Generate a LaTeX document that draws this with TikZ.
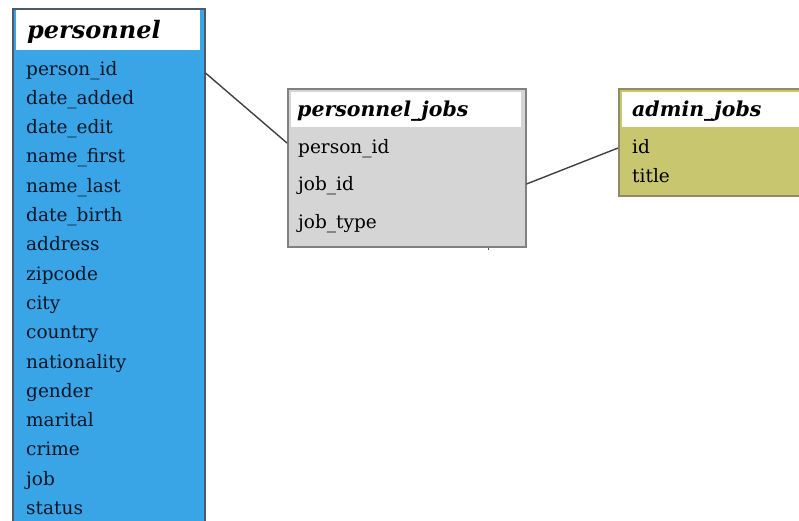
\documentclass[tikz,border=0pt]{standalone}
\usepackage{fontspec}
\setmainfont{DejaVu Serif}
\usetikzlibrary{positioning}
\definecolor{persblue}{HTML}{39A4E6}
\definecolor{persedge}{HTML}{4E5A68}
\definecolor{jobgray}{HTML}{D5D5D5}
\definecolor{jobedge}{HTML}{808080}
\definecolor{adminolive}{HTML}{C9C670}
\definecolor{adminedge}{HTML}{8E8C66}
\definecolor{fieldink}{HTML}{0E1626}
\tikzset{
  tablebox/.style={draw, line width=1.5pt, inner sep=0pt, anchor=north west},
  headband/.style={fill=white, draw=none, inner sep=0pt, anchor=north west},
  tabletitle/.style={anchor=base west, inner sep=0pt, font=\fontsize{#1}{#1}\selectfont\bfseries\itshape},
  field/.style={anchor=base west, inner sep=0pt, text=fieldink, font=\fontsize{18.5}{20}\selectfont},
  link/.style={draw=black!75, line width=1.4pt}
}
\begin{document}
\begin{tikzpicture}[x=1pt, y=-1pt]
\useasboundingbox (0,0) rectangle (799,520);
\clip (0,0) rectangle (799,520);

% table: personnel
\node[tablebox, draw=persedge, fill=persblue, minimum width=192pt, minimum height=540pt] (personnel) at (12,8) {};
\node[headband, minimum width=184pt, minimum height=40pt] (personnelhead) at (16,10) {};
\node[tabletitle=24] (personneltitle) at (27,38) {personnel};
\foreach \f [count=\i from 0] in {person\_id, date\_added, date\_edit, name\_first, name\_last, date\_birth, address, zipcode, city, country, nationality, gender, marital, crime, job, status}{
  \node[field] (pf\i) at (26,{75+29.3*\i}) {\f};
}

% table: personnel_jobs
\node[tablebox, draw=jobedge, fill=jobgray, minimum width=238pt, minimum height=158pt] (pjobs) at (287,88) {};
\node[headband, minimum width=230pt, minimum height=35pt] (pjobshead) at (291,92) {};
\node[tabletitle=20.5] (pjobstitle) at (297,116) {personnel\_jobs};
\node[field, text=black] (pjpid) at (298,153) {person\_id};
\node[field, text=black] (pjjid) at (298,190.5) {job\_id};
\node[field, text=black] (pjjtype) at (298,228) {job\_type};

% table: admin_jobs
\node[tablebox, draw=adminedge, fill=adminolive, minimum width=200pt, minimum height=107pt] (ajobs) at (618,88) {};
\node[headband, minimum width=192pt, minimum height=35pt] (ajobshead) at (622,92) {};
\node[tabletitle=20.5] (ajobstitle) at (632,116) {admin\_jobs};
\node[field, text=black] (ajid) at (632,153) {id};
\node[field, text=black] (ajtitle) at (632,182) {title};

% relations
\draw[link] (personnel.east |- 0,73) -- (pjobs.west |- 0,143);
\draw[link] (pjobs.east |- 0,184) -- (ajobs.west |- 0,148);

% small tick under personnel_jobs
\coordinate (tick) at (488,250);
\draw[draw=black!70, line width=1pt] (pjobs.south -| tick) -- (tick);
\end{tikzpicture}
\end{document}
